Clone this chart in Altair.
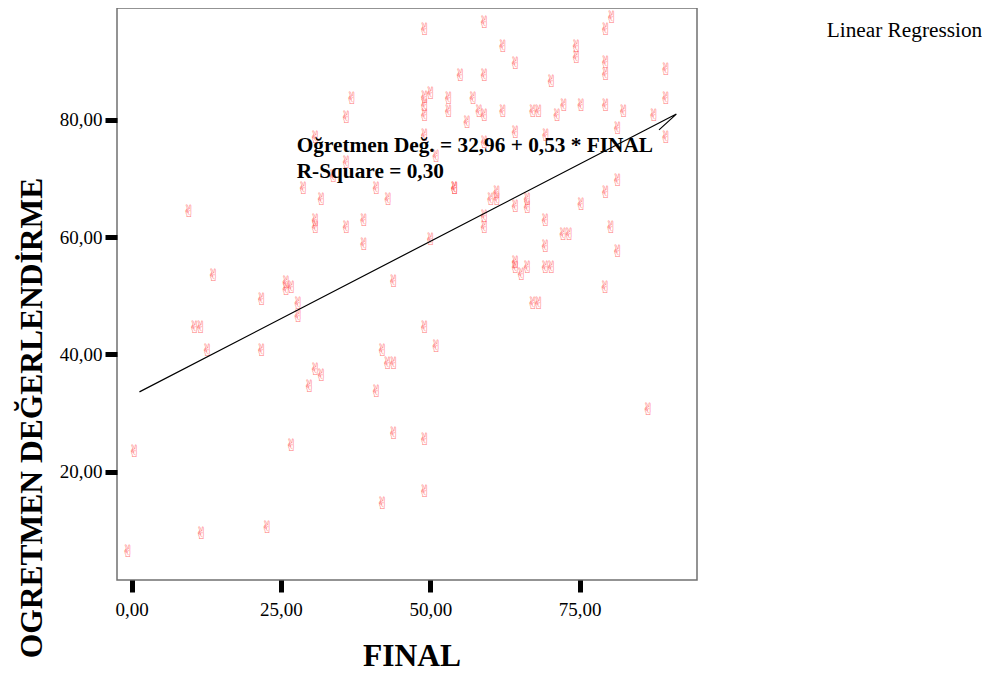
import altair as alt
import pandas as pd

# FINAL score (x) and teacher evaluation (y)
final = [36.9, 36.0, 30.8, 36.0, 33.8, 28.8, 41.0, 31.8, 43.0, 9.6,
         30.8, 30.8, 36.0, 38.9, 38.9, 13.7, 25.9, 25.9, 26.8, 43.9,
         21.8, 27.9, 27.9, 10.6, 11.6, 12.7, 21.8, 42.0, 42.9, 43.9,
         30.8, 31.8, 29.8, 41.0, 43.9, 0.5, 26.8, 42.0, 22.7, 11.7,
         -0.6, 67.2, 68.2, 49.1, 51.0, 86.5, 49.1, 49.1, 79.3, 49.1,
         59.1, 80.4, 79.4, 62.2, 74.5, 74.5, 79.4, 79.4, 64.3, 55.1,
         59.1, 70.3, 89.5, 89.5, 49.1, 50.1, 49.1, 49.1, 53.1, 53.1,
         57.2, 58.2, 59.1, 56.2, 62.2, 67.2, 68.2, 72.4, 71.3, 75.3,
         79.4, 82.4, 87.5, 89.5, 81.4, 64.3, 69.4, 59.1, 49.1, 51.0,
         54.1, 54.1, 81.4, 79.4, 61.2, 60.2, 61.2, 66.3, 66.3, 64.3,
         75.3, 59.1, 59.1, 69.3, 69.3, 80.3, 72.3, 73.3, 81.4, 50.1,
         64.3, 66.3, 65.3, 64.3, 69.3, 70.3]
ogretmen = [83.5, 80.3, 76.9, 72.6, 70.3, 68.3, 68.3, 66.4, 66.4, 64.3,
            62.7, 61.5, 61.5, 62.7, 58.6, 53.4, 52.2, 51.0, 51.3, 52.4,
            49.3, 48.6, 46.4, 44.5, 44.5, 40.5, 40.5, 40.5, 38.4, 38.4,
            37.3, 36.3, 34.5, 33.5, 26.4, 23.3, 24.4, 14.5, 10.3, 9.3,
            6.2, 48.6, 48.6, 44.5, 41.3, 30.5, 25.4, 16.5, 51.3, 95.4,
            96.5, 97.4, 95.4, 92.5, 92.5, 90.5, 89.7, 87.7, 89.5, 87.5,
            87.5, 86.5, 88.5, 83.5, 83.7, 84.4, 82.3, 80.6, 83.5, 81.4,
            83.5, 81.4, 80.6, 79.5, 81.4, 81.4, 81.4, 82.4, 80.6, 82.4,
            82.4, 81.4, 80.6, 76.9, 78.4, 77.7, 77.2, 76.0, 77.2, 73.7,
            68.3, 68.3, 69.5, 67.5, 67.5, 66.4, 66.4, 66.4, 64.9, 65.2,
            65.5, 63.5, 61.5, 62.7, 58.4, 61.5, 60.4, 60.4, 57.5, 59.5,
            55.6, 54.7, 53.6, 54.7, 54.7, 54.7]

# regression line as drawn (including the small hook at its end)
line_final = [1.3, 91.2, 88.3]
line_ogr = [33.6, 81.0, 78.3]
line_order = [0, 1, 2]

x_ticks = [0, 25, 50, 75]
y_ticks = [20, 40, 60, 80]
eq_lines = ["Oğretmen Değ. = 32,96 + 0,53 * FINAL", "R-Square = 0,30"]
legend_text = "Linear Regression"
x_title = "FINAL"
y_title = "OGRETMEN DEĞERLENDİRME"

pts = pd.DataFrame({"FINAL": final, "OGR": ogretmen})
line_df = pd.DataFrame({"FINAL": line_final, "OGR": line_ogr, "o": line_order})
one = pd.DataFrame({"k": [0]})

SERIF = "Liberation Serif"
label_expr = "replace(format(datum.value, '.2f'), '.', ',')"

xscale = alt.Scale(domain=[-2.46, 94.66], nice=False, zero=False)
yscale = alt.Scale(domain=[1.5, 99.1], nice=False, zero=False)

xaxis = alt.Axis(values=x_ticks, labelExpr=label_expr, domain=False, grid=False,
                 tickSize=12, tickWidth=5, tickColor="black",
                 labelFont=SERIF, labelFontSize=19, labelColor="black", labelPadding=8,
                 title=x_title, titleFont=SERIF, titleFontSize=31.5, titleFontWeight="bold",
                 titleColor="black", titleX=294.5, titleY=85,
                 titleBaseline="alphabetic", titleAlign="center")
yaxis = alt.Axis(values=y_ticks, labelExpr=label_expr, domain=False, grid=False,
                 tickSize=12, tickWidth=5, tickColor="black",
                 labelFont=SERIF, labelFontSize=19, labelColor="black", labelPadding=3,
                 title=y_title, titleFont=SERIF, titleFontSize=31.5, titleFontWeight="bold",
                 titleColor="black", titleAngle=270, titleX=-76, titleY=409.5,
                 titleBaseline="alphabetic", titleAlign="center")

x_enc = alt.X("FINAL:Q", scale=xscale, axis=xaxis)
y_enc = alt.Y("OGR:Q", scale=yscale, axis=yaxis)

points = alt.Chart(pts).mark_text(
    text="✌", font="DejaVu Sans", fontSize=17, color="#ff3b3b", opacity=0.7,
    align="center", baseline="middle"
).encode(x=x_enc, y=y_enc)

reg = alt.Chart(line_df).mark_line(color="black", strokeWidth=1.2).encode(
    x=x_enc, y=y_enc, order="o:Q")

eq = alt.Chart(one).mark_text(
    text=eq_lines, font=SERIF, fontSize=21.3, fontWeight="bold", color="black",
    align="left", baseline="alphabetic", lineHeight=26
).encode(x=alt.value(179.7), y=alt.value(143.7))

leg = alt.Chart(one).mark_text(
    text=legend_text, font=SERIF, fontSize=21.3, color="black",
    align="left", baseline="alphabetic"
).encode(x=alt.value(709.7), y=alt.value(28.7))

chart = alt.layer(points, reg, eq, leg).properties(
    width=580, height=572,
    autosize=alt.AutoSizeParams(type="none"),
    padding={"left": 109, "top": 0, "right": 285, "bottom": 88},
    background="white",
).configure_view(stroke="#707070", strokeWidth=1.5)

chart.save("out.html", embed_options={"renderer": "svg", "actions": False})
